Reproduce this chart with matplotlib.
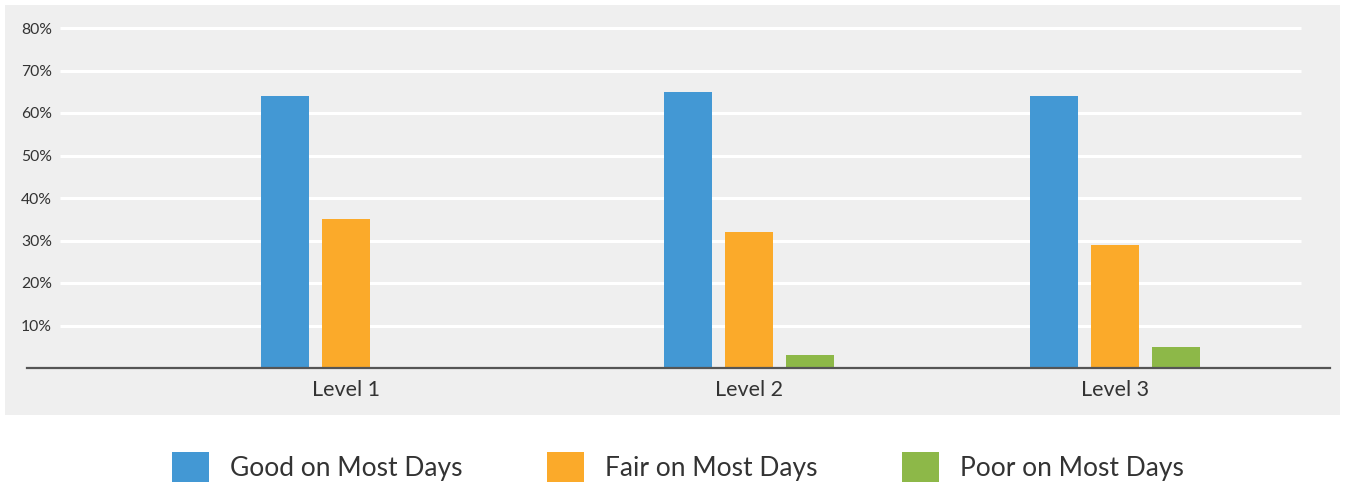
import matplotlib
matplotlib.use("Agg")
import matplotlib.pyplot as plt
from matplotlib.patches import Rectangle, Patch
from matplotlib import font_manager

categories = ["Level 1", "Level 2", "Level 3"]
series_names = ["Good on Most Days", "Fair on Most Days", "Poor on Most Days"]
good = [64, 65, 64]
fair = [35, 32, 29]
poor = [0, 3, 5]
y_ticks = [10, 20, 30, 40, 50, 60, 70, 80]
y_tick_labels = ["10%", "20%", "30%", "40%", "50%", "60%", "70%", "80%"]

# layout (pixel-like x units)
group_centers = [346, 749, 1115]
bar_width = 48
bar_step = 61
colors = ["#4398d4", "#fbaa2a", "#8db848"]

fams = [f.name for f in font_manager.fontManager.ttflist]
family = "Lato" if "Lato" in fams else "DejaVu Sans"
plt.rcParams["font.family"] = [family, "DejaVu Sans"]

W, H = 1346, 487
fig = plt.figure(figsize=(W / 100, H / 100), dpi=100)
fig.patch.set_facecolor("white")
bg = Rectangle((5 / W, (H - 415) / H), 1335 / W, 410 / H,
               transform=fig.transFigure, facecolor="#efefef",
               edgecolor="none", zorder=-10)
fig.add_artist(bg)

ax = fig.add_axes([27 / W, (H - 368) / H, (1330 - 27) / W, (368 - 28) / H])
ax.set_zorder(1)
ax.set_facecolor("none")
ax.set_xlim(27, 1330)
ax.set_ylim(0, 80)

for yv in y_ticks:
    ax.hlines(yv, 60, 1301, color="white", lw=2.2, zorder=1, clip_on=False)

all_series = [good, fair, poor]
for i, vals in enumerate(all_series):
    xs = [c + (i - 1) * bar_step for c in group_centers]
    ax.bar(xs, vals, width=bar_width, color=colors[i], zorder=2)

ax.axhline(0, color="#555555", lw=1.6, zorder=3, clip_on=False)

for s in ax.spines.values():
    s.set_visible(False)
ax.set_yticks(y_ticks)
ax.set_yticklabels(y_tick_labels, fontsize=11.3, color="#333333")
ax.tick_params(axis="y", length=0, pad=-18)
ax.set_xticks(group_centers)
ax.set_xticklabels(categories, fontsize=15.5, color="#333333")
ax.tick_params(axis="x", length=0, pad=9)

handles = [Patch(facecolor=c, edgecolor="none") for c in colors]
fig.legend(handles, series_names, loc="center", bbox_to_anchor=(678 / W, (H - 467) / H),
           ncol=3, frameon=False, fontsize=19, handlelength=1.4, handleheight=1.4,
           handletextpad=0.8, columnspacing=3.2, labelcolor="#333333")

fig.savefig("out.png", dpi=100)
